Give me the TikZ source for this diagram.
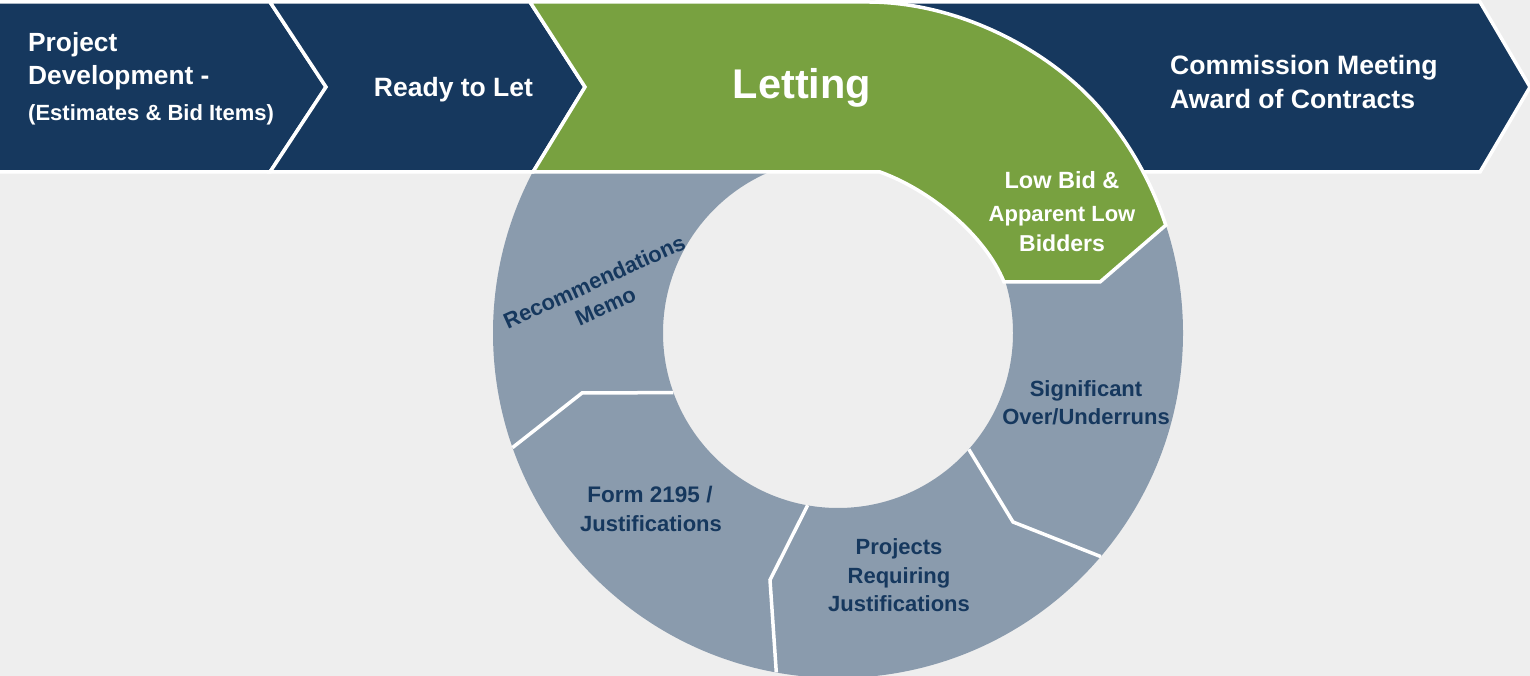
\documentclass[tikz,border=0pt]{standalone}
\usepackage{fontspec}
\setmainfont{Liberation Sans}
\definecolor{navy}{RGB}{22,56,94}
\definecolor{leaf}{RGB}{120,161,64}
\definecolor{slate}{RGB}{138,155,173}
\definecolor{bg}{RGB}{238,238,238}
\begin{document}
\begin{tikzpicture}[x=1pt,y=1pt,
  band/.style={fill=navy,draw=white,line width=3.5pt,line join=miter},
  leafshape/.style={fill=leaf,draw=white,line width=3.5pt,line join=miter},
  sep/.style={draw=white,line width=3.5pt},
  fs/.style={font=\bfseries\fontsize{#1}{#1}\selectfont},
  wlab/.style={text=white,inner sep=0pt},
  nlab/.style={text=navy,inner sep=0pt}]
\fill[bg] (0,0) rectangle (1530,676);
\useasboundingbox (0,0) rectangle (1530,676);
\coordinate (C) at (838,343);
% ring
\begin{scope}
\clip (0,0) rectangle (1530,504);
\fill[slate,even odd rule] (C) circle[radius=345] (C) circle[radius=175];
\end{scope}
% separators
\draw[sep] (968.8,226.7) -- (1013,154) -- (1100.8,119.4);
\draw[sep] (807.6,170.7) -- (770,96) -- (776.3,3.6);
\draw[sep] (673.4,283.4) -- (582,283) -- (512.5,228.4);
% chevrons
\path[band] (-5,674) -- (270,674) -- (326,589) -- (270,504) -- (-5,504) -- cycle;
\path[band] (270,674) -- (530,674) -- (585,589) -- (533,504) -- (270,504) -- (326,589) -- cycle;
\path[band] (880,674) -- (1480,674) -- (1530,589) -- (1480,504) -- (1100,504) -- cycle;
% green letting shape
\path[leafshape] (530,674) -- (868,674) .. controls (958,674) and (1050.9,626.1) .. (1102.3,564.8)
  arc[start angle=40,end angle=18.2,radius=345] -- (1100,394) -- (1004,394)
  .. controls (985,441) and (930,486) .. (880,504) -- (533,504) -- (585,589) -- cycle;
% labels
\node[wlab,fs=26.3,anchor=base west] (pd1) at (28,624.3) {Project};
\node[wlab,fs=26.3,anchor=base west] (pd2) at (28,591.5) {Development -};
\node[wlab,fs=22,anchor=base west] (pd3) at (28,555) {(Estimates \& Bid Items)};
\node[wlab,fs=26.5,anchor=base] (rtl) at (453.5,579.3) {Ready to Let};
\node[wlab,fs=41.5,anchor=base] (let) at (802,577.7) {Letting};
\node[wlab,fs=26.6,anchor=base west] (cm1) at (1170,601.7) {Commission Meeting};
\node[wlab,fs=26.6,anchor=base west] (cm2) at (1170,567) {Award of Contracts};
\node[wlab,fs=23.5,anchor=base] (lb1) at (1062,487.7) {Low Bid \&};
\node[wlab,fs=22,anchor=base] (lb2) at (1062,454.3) {Apparent Low};
\node[wlab,fs=23,anchor=base] (lb3) at (1062,424.3) {Bidders};
\node[nlab,fs=22,anchor=base] (so1) at (1086,279.3) {Significant};
\node[nlab,fs=22,anchor=base] (so2) at (1086,251) {Over/Underruns};
\node[nlab,fs=22,anchor=base] (pr1) at (899,121) {Projects};
\node[nlab,fs=22,anchor=base] (pr2) at (899,92.7) {Requiring};
\node[nlab,fs=22,anchor=base] (pr3) at (899,64.3) {Justifications};
\node[nlab,fs=22.5,anchor=base] (fo1) at (650,173.3) {Form 2195 /};
\node[nlab,fs=22,anchor=base] (fo2) at (651,144.3) {Justifications};
\node[nlab,font=\bfseries\fontsize{22}{27}\selectfont,align=center,rotate=24.4] (rm) at (599.8,382.2) {Recommendations\\Memo};
\end{tikzpicture}
\end{document}
